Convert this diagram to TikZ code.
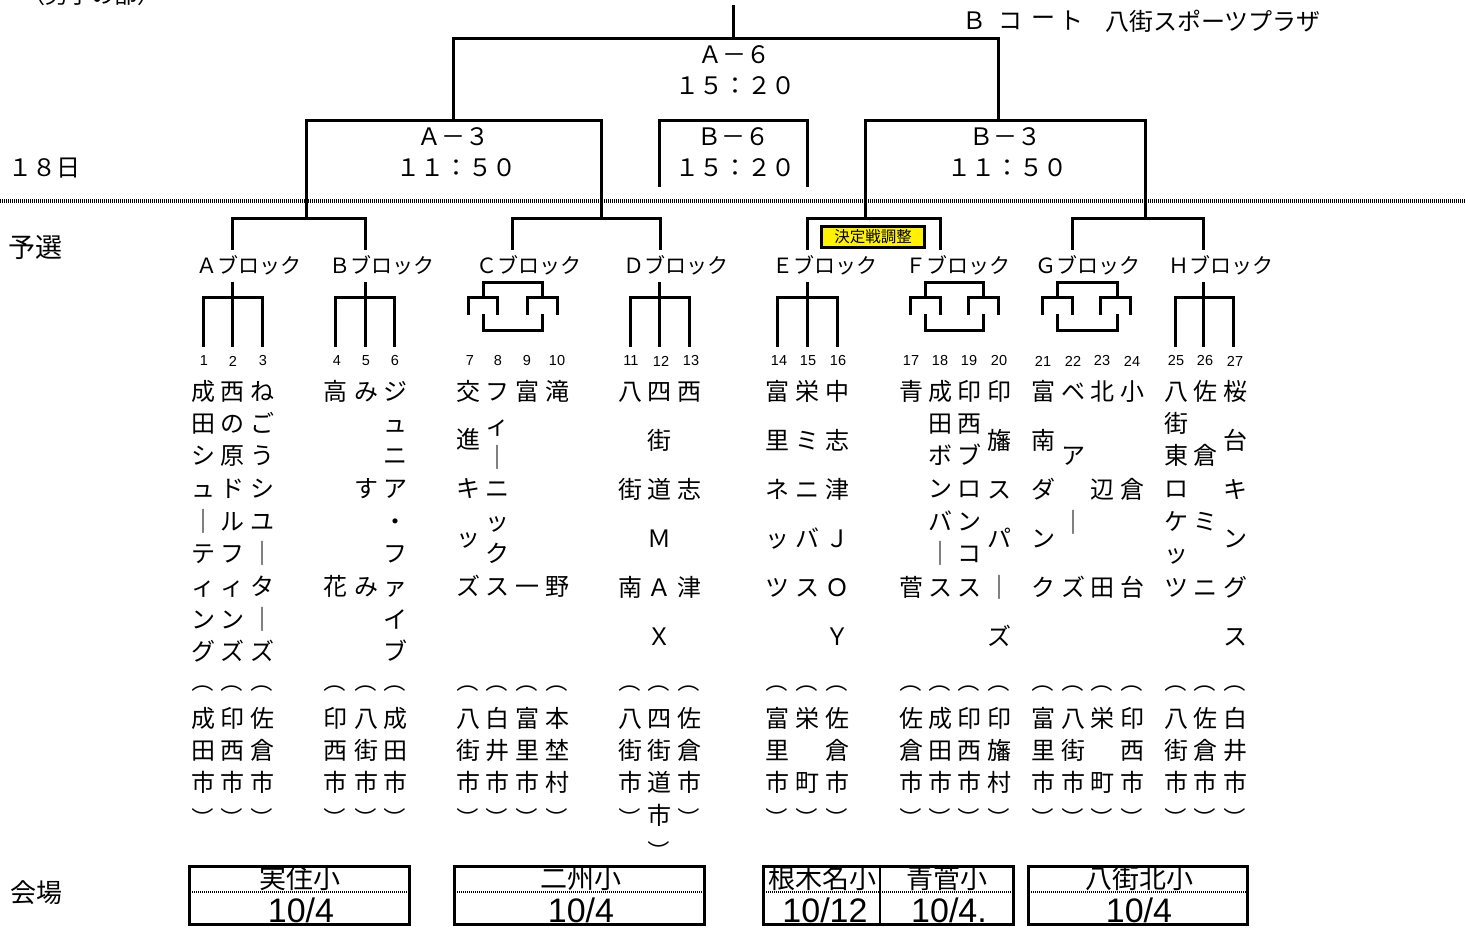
\documentclass[tikz,border=0pt]{standalone}
\usepackage{fontspec}
\newfontfamily\jp{Noto Sans CJK JP}
\newfontfamily\lat{Liberation Sans}
\newcommand\jpsz[1]{\jp\fontsize{#1}{#1}\selectfont}
\newcommand\latsz[1]{\lat\fontsize{#1}{#1}\selectfont}
\newcommand\threeway[3]{\draw[br] (#2,283)--(#2,345); \draw[br] (#1,345)--(#1,297)--(#3,297)--(#3,345);}
\newcommand\fourway[6]{%
 \draw[br] (#5,297)--(#5,282)--(#6,282)--(#6,297);
 \draw[br] (#1,313)--(#1,297)--(#2,297)--(#2,313);
 \draw[br] (#3,313)--(#3,297)--(#4,297)--(#4,313);
 \draw[br] (#5,315)--(#5,330)--(#6,330)--(#6,315);}
\newcommand\tcol[2]{\foreach \yy/\cc in {#2} {\node[ch] (t#1-\yy) at (#1,\yy) {\cc};}}
\newcommand\cityc[4]{%
 \node[par] (po#1) at (#1,681) {（};
 \node[ch] (ca#1) at (#1,718) {#2};
 \node[ch] (cb#1) at (#1,750) {#3};
 \node[ch] (cc#1) at (#1,782) {#4};
 \node[par] (pc#1) at (#1,818) {）};}
\begin{document}
\begin{tikzpicture}[x=1pt,y=-1pt,
 br/.style={line width=3pt,line cap=rect,line join=miter},
 ch/.style={inner sep=0pt,font=\jpsz{24pt},text height=21pt,text depth=3pt},
 par/.style={inner sep=0pt,rotate=-90,font=\jpsz{22pt}},
 num/.style={inner sep=0pt,font=\latsz{14.5pt}},
 blk/.style={inner sep=0pt,anchor=west,font=\jpsz{21pt}},
 lab/.style={inner sep=0pt,font=\jpsz{24pt}},
 vbox/.style={line width=3pt},
 vdot/.style={line width=2pt,dash pattern=on 1pt off 1pt},
 vtx/.style={inner sep=0pt,font=\jpsz{27pt}},
 vdg/.style={inner sep=0pt,font=\latsz{34pt}},
]
\useasboundingbox (0,0) rectangle (1465,927);
\fill[white] (0,0) rectangle (1465,927);

% header texts
\node[inner sep=0pt,anchor=base west,font=\jpsz{23pt}] (title) at (22,3) {（男子の部）};
\node[lab] (bc1) at (974,21) {Ｂ};
\node[lab] (bc2) at (1010,21) {コ};
\node[lab] (bc3) at (1043,21) {ー};
\node[lab] (bc4) at (1071,21) {ト};
\node[inner sep=0pt,anchor=west,font=\jpsz{24pt}] (plaza) at (1105,21) {八街スポーツプラザ};
\node[lab] (day) at (45,168) {１８日};
\node[lab,font=\jpsz{27pt}] (yosen) at (36,248) {予選};
\node[lab,font=\jpsz{26pt}] (kaijo) at (36,893) {会場};

% separator
\draw[line width=4pt,dash pattern=on 1pt off 1pt] (0,201)--(1465,201);

% final brackets
\draw[br] (733,6)--(733,38);
\draw[br] (453,120)--(453,38)--(998,38)--(998,120);
\draw[br] (306,218)--(306,120)--(601,120)--(601,218);
\draw[br] (659,185)--(659,120)--(807,120)--(807,185);
\draw[br] (865,218)--(865,120)--(1145,120)--(1145,218);
\draw[br] (232,248)--(232,218)--(365,218)--(365,248);
\draw[br] (512,248)--(512,218)--(660,218)--(660,248);
\draw[br] (807,248)--(807,218)--(940,218)--(940,248);
\draw[br] (1072,248)--(1072,218)--(1203,218)--(1203,248);

\node[lab] (a6) at (734,55) {Ａ－６};
\node[lab] (a6t) at (735,86) {１５：２０};
\node[lab] (a3) at (453,137) {Ａ－３};
\node[lab] (a3t) at (456,168) {１１：５０};
\node[lab] (b6) at (733,137) {Ｂ－６};
\node[lab] (b6t) at (735,168) {１５：２０};
\node[lab] (b3) at (1005,137) {Ｂ－３};
\node[lab] (b3t) at (1007,168) {１１：５０};

\node[draw,fill=yellow,line width=3pt,minimum width=103pt,minimum height=21pt,inner sep=0pt,font=\jpsz{15.5pt}] (kettei) at (873,237) {決定戦調整};

% block labels
\node[blk] (blA) at (196,265) {Ａブロック};
\node[blk] (blB) at (329,265) {Ｂブロック};
\node[blk] (blC) at (476,265) {Ｃブロック};
\node[blk] (blD) at (623,265) {Ｄブロック};
\node[blk] (blE) at (772,265) {Ｅブロック};
\node[blk] (blF) at (905,265) {Ｆブロック};
\node[blk] (blG) at (1035,265) {Ｇブロック};
\node[blk] (blH) at (1168,265) {Ｈブロック};

% block trees
\threeway{203}{232}{262}
\threeway{335}{365}{394}
\fourway{468}{497}{527}{557}{483}{542}
\threeway{630}{659}{689}
\threeway{777}{807}{837}
\fourway{910}{940}{968}{998}{925}{983}
\fourway{1042}{1072}{1100}{1130}{1057}{1117}
\threeway{1175}{1203}{1233}

% numbers
\foreach \n/\x in {1/204,2/233,3/263,4/337,5/366,6/395,7/470,8/498,9/527,10/557,11/631,12/661,13/691,14/779,15/808,16/838,17/911,18/940,19/969,20/999,21/1043,22/1073,23/1102,24/1132,25/1176,26/1205,27/1235}
 \node[num] (n\n) at (\x,361) {\n};

% team names
\tcol{203}{391/成,423/田,455/シ,488/ュ,521/｜,553/テ,586/ィ,619/ン,651/グ}
\tcol{232}{391/西,423/の,455/原,488/ド,521/ル,553/フ,586/ィ,619/ン,651/ズ}
\tcol{262}{391/ね,423/ご,455/う,488/シ,521/ユ,553/｜,586/タ,619/｜,651/ズ}
\tcol{335}{391/高,586/花}
\tcol{366}{391/み,488/す,586/み}
\tcol{395}{391/ジ,423/ュ,455/ニ,488/ア,521/・,553/フ,586/ァ,619/イ,651/ブ}
\tcol{468}{391/交,439/進,488/キ,537/ッ,586/ズ}
\tcol{497}{391/フ,425/ィ,457/｜,488/ニ,521/ッ,553/ク,586/ス}
\tcol{527}{391/富,586/一}
\tcol{557}{391/滝,586/野}
\tcol{630}{391/八,489/街,587/南}
\tcol{659}{391/四,440/街,489/道,538/Ｍ,587/Ａ,636/Ｘ}
\tcol{689}{391/西,489/志,587/津}
\tcol{777}{391/富,440/里,489/ネ,538/ッ,587/ツ}
\tcol{807}{391/栄,440/ミ,489/ニ,538/バ,587/ス}
\tcol{837}{391/中,440/志,489/津,538/Ｊ,587/Ｏ,636/Ｙ}
\tcol{911}{391/青,587/菅}
\tcol{940}{391/成,423/田,455/ボ,488/ン,521/バ,553/｜,587/ス}
\tcol{969}{391/印,423/西,455/ブ,488/ロ,521/ン,553/コ,587/ス}
\tcol{999}{391/印,440/旛,489/ス,538/パ,587/｜,636/ズ}
\tcol{1043}{391/富,440/南,489/ダ,538/ン,587/ク}
\tcol{1073}{391/ベ,455/ア,522/｜,587/ズ}
\tcol{1102}{391/北,489/辺,587/田}
\tcol{1132}{391/小,489/倉,587/台}
\tcol{1176}{391/八,423/街,455/東,488/ロ,521/ケ,553/ッ,587/ツ}
\tcol{1205}{391/佐,455/倉,521/ミ,587/ニ}
\tcol{1235}{391/桜,440/台,489/キ,538/ン,587/グ,636/ス}

% cities
\cityc{203}{成}{田}{市}
\cityc{232}{印}{西}{市}
\cityc{262}{佐}{倉}{市}
\cityc{335}{印}{西}{市}
\cityc{366}{八}{街}{市}
\cityc{395}{成}{田}{市}
\cityc{468}{八}{街}{市}
\cityc{497}{白}{井}{市}
\cityc{527}{富}{里}{市}
\cityc{557}{本}{埜}{村}
\cityc{630}{八}{街}{市}
\node[par] (po659) at (659,681) {（};
\node[ch] (ca659) at (659,718) {四};
\node[ch] (cb659) at (659,750) {街};
\node[ch] (cc659) at (659,782) {道};
\node[ch] (cd659) at (659,815) {市};
\node[par] (pc659) at (659,851) {）};
\cityc{689}{佐}{倉}{市}
\cityc{777}{富}{里}{市}
\cityc{807}{栄}{}{町}
\cityc{837}{佐}{倉}{市}
\cityc{911}{佐}{倉}{市}
\cityc{940}{成}{田}{市}
\cityc{969}{印}{西}{市}
\cityc{999}{印}{旛}{村}
\cityc{1043}{富}{里}{市}
\cityc{1073}{八}{街}{市}
\cityc{1102}{栄}{}{町}
\cityc{1132}{印}{西}{市}
\cityc{1176}{八}{街}{市}
\cityc{1205}{佐}{倉}{市}
\cityc{1235}{白}{井}{市}

% venue boxes
\draw[vbox] (189,866) rectangle (409,924);
\draw[vdot] (190,892)--(408,892);
\node[vtx] (v1) at (300,878) {実住小};
\node[vdg] (d1) at (301,910) {10/4};

\draw[vbox] (454,866) rectangle (704,924);
\draw[vdot] (455,892)--(703,892);
\node[vtx] (v2) at (581,878) {二州小};
\node[vdg] (d2) at (581,910) {10/4};

\draw[vbox] (763,866) rectangle (1013,924);
\draw[line width=2.5pt] (880,866)--(880,924);
\draw[vdot] (764,892)--(1012,892);
\node[vtx] (v3) at (822,878) {根木名小};
\node[vdg] (d3) at (825,910) {10/12};
\node[vtx] (v4) at (947,878) {青菅小};
\node[vdg] (d4) at (949,910) {10/4.};

\draw[vbox] (1028,866) rectangle (1247,924);
\draw[vdot] (1029,892)--(1246,892);
\node[vtx] (v5) at (1139,878) {八街北小};
\node[vdg] (d5) at (1139,910) {10/4};
\end{tikzpicture}
\end{document}
